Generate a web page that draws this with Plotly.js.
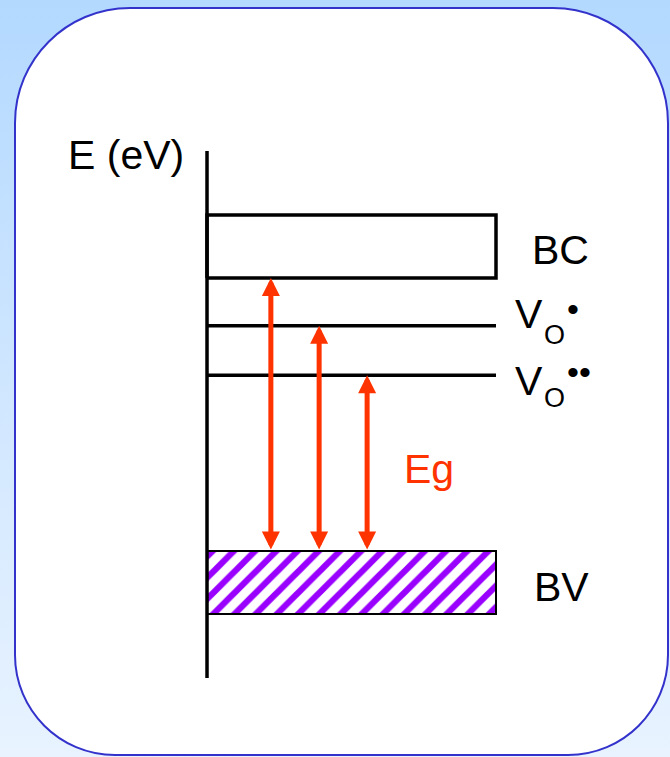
<!DOCTYPE html>
<html>
<head>
<meta charset="utf-8">
<script src="https://cdn.plot.ly/plotly-3.0.1.min.js"></script>
<style>
  html, body { margin: 0; padding: 0; width: 670px; height: 757px; overflow: hidden;
    background: linear-gradient(to bottom, #b3d9ff 0%, #cfe6ff 50%, #e8f3ff 100%); }
  #chart { width: 670px; height: 757px; }
</style>
</head>
<body>
<div id="chart"></div>
<script>
// ---- data (energies in eV, relative to top of valence band) ----
const levelLabels = ['BC', 'V<sub>O</sub>•', 'V<sub>O</sub>••', 'BV'];
const bcBand = [3.2, 3.94];          // conduction band: bottom, top
const bvBand = [-0.74, 0];           // valence band: bottom, top
const donorLevels = [2.64, 2.06];    // VO• , VO••
const levelExtent = [0, 1];          // horizontal extent of the bands / levels
const axisSpan = [-1.49, 4.69];      // energy axis drawn span
const transitionX = [0.221, 0.388, 0.554];
const transitionTop = [3.2, 2.64, 2.06];
const transitionBottom = [0, 0, 0];
const gapLabel = 'Eg';
const axisLabel = 'E (eV)';

// ---- layout helpers (pixel -> paper fraction) ----
const W = 670, H = 757;
const fx = p => p / W;
const fy = p => 1 - p / H;

function roundedRectPath(L, T, R, B, rt, rb) {
  const k = 0.5523;
  const P = (x, y) => fx(x).toFixed(5) + ',' + fy(y).toFixed(5);
  return 'M' + P(L, T + rt) +
    ' C' + P(L, T + rt - k * rt) + ' ' + P(L + rt - k * rt, T) + ' ' + P(L + rt, T) +
    ' L' + P(R - rt, T) +
    ' C' + P(R - rt + k * rt, T) + ' ' + P(R, T + rt - k * rt) + ' ' + P(R, T + rt) +
    ' L' + P(R, B - rb) +
    ' C' + P(R, B - rb + k * rb) + ' ' + P(R - rb + k * rb, B) + ' ' + P(R - rb, B) +
    ' L' + P(L + rb, B) +
    ' C' + P(L + rb - k * rb, B) + ' ' + P(L, B - rb + k * rb) + ' ' + P(L, B - rb) + ' Z';
}

const black = '#000000';
const red = '#ff3300';
const purple = '#9900ff';

const traces = [];

// valence band (hatched)
traces.push({
  type: 'bar',
  x: [(levelExtent[0] + levelExtent[1]) / 2],
  y: [bvBand[1] - bvBand[0]],
  base: [bvBand[0]],
  width: [levelExtent[1] - levelExtent[0]],
  marker: {
    color: 'white',
    line: { color: black, width: 2 },
    pattern: { shape: '/', fgcolor: purple, bgcolor: 'white', size: 15, solidity: 0.42, fillmode: 'replace' }
  },
  hoverinfo: 'skip'
});

// conduction band (open box)
traces.push({
  type: 'scatter', mode: 'lines',
  x: [levelExtent[0], levelExtent[1], levelExtent[1], levelExtent[0], levelExtent[0]],
  y: [bcBand[0], bcBand[0], bcBand[1], bcBand[1], bcBand[0]],
  line: { color: black, width: 3.5 },
  hoverinfo: 'skip'
});

// donor levels
donorLevels.forEach(e => {
  traces.push({
    type: 'scatter', mode: 'lines',
    x: [levelExtent[0], levelExtent[1]],
    y: [e, e],
    line: { color: black, width: 3.5 },
    hoverinfo: 'skip'
  });
});

// energy axis line
traces.push({
  type: 'scatter', mode: 'lines',
  x: [levelExtent[0], levelExtent[0]],
  y: axisSpan,
  line: { color: black, width: 3.5 },
  hoverinfo: 'skip'
});

const annotations = [];

// transition arrows (double-headed)
transitionX.forEach((x, i) => {
  annotations.push({
    x: x, y: transitionTop[i], xref: 'x', yref: 'y',
    ax: x, ay: transitionBottom[i], axref: 'x', ayref: 'y',
    text: '', showarrow: true,
    arrowhead: 2, startarrowhead: 2, arrowside: 'end+start',
    arrowsize: 0.72, startarrowsize: 0.72, arrowwidth: 5,
    arrowcolor: red, standoff: 0, startstandoff: 0
  });
});

const txt = (text, px, py, size, color) => ({
  text: text, x: fx(px), y: fy(py), xref: 'paper', yref: 'paper',
  xanchor: 'center', yanchor: 'middle', showarrow: false,
  font: { family: 'Liberation Sans, Arial, sans-serif', size: size, color: color || black }
});

annotations.push(txt(axisLabel, 126, 155, 41));
annotations.push(txt(levelLabels[0], 560, 250, 41));
annotations.push(txt(levelLabels[3], 561, 587, 41));
annotations.push(txt(gapLabel, 429, 469, 41, red));
// VO• label
annotations.push(txt('V', 529, 314.5, 41));
annotations.push(txt('O', 554, 335, 27));
annotations.push(txt('•', 573, 309, 34));
// VO•• label
annotations.push(txt('V', 529, 381, 41));
annotations.push(txt('O', 554, 398, 27));
annotations.push(txt('••', 579, 372, 34));

const layout = {
  width: W, height: H,
  margin: { l: 0, r: 0, t: 0, b: 0, pad: 0 },
  paper_bgcolor: 'rgba(0,0,0,0)',
  plot_bgcolor: 'rgba(0,0,0,0)',
  showlegend: false,
  xaxis: { range: [-0.7163, 1.6021], visible: false, fixedrange: true },
  yaxis: { range: [-2.415, 6.459], visible: false, fixedrange: true },
  shapes: [{
    type: 'path', xref: 'paper', yref: 'paper', layer: 'below',
    path: roundedRectPath(15, 8, 668, 755, 115, 100),
    fillcolor: 'white', line: { color: '#3333cc', width: 2 }
  }],
  annotations: annotations,
  bargap: 0
};

Plotly.newPlot('chart', traces, layout, { staticPlot: true, displayModeBar: false });
</script>
</body>
</html>
